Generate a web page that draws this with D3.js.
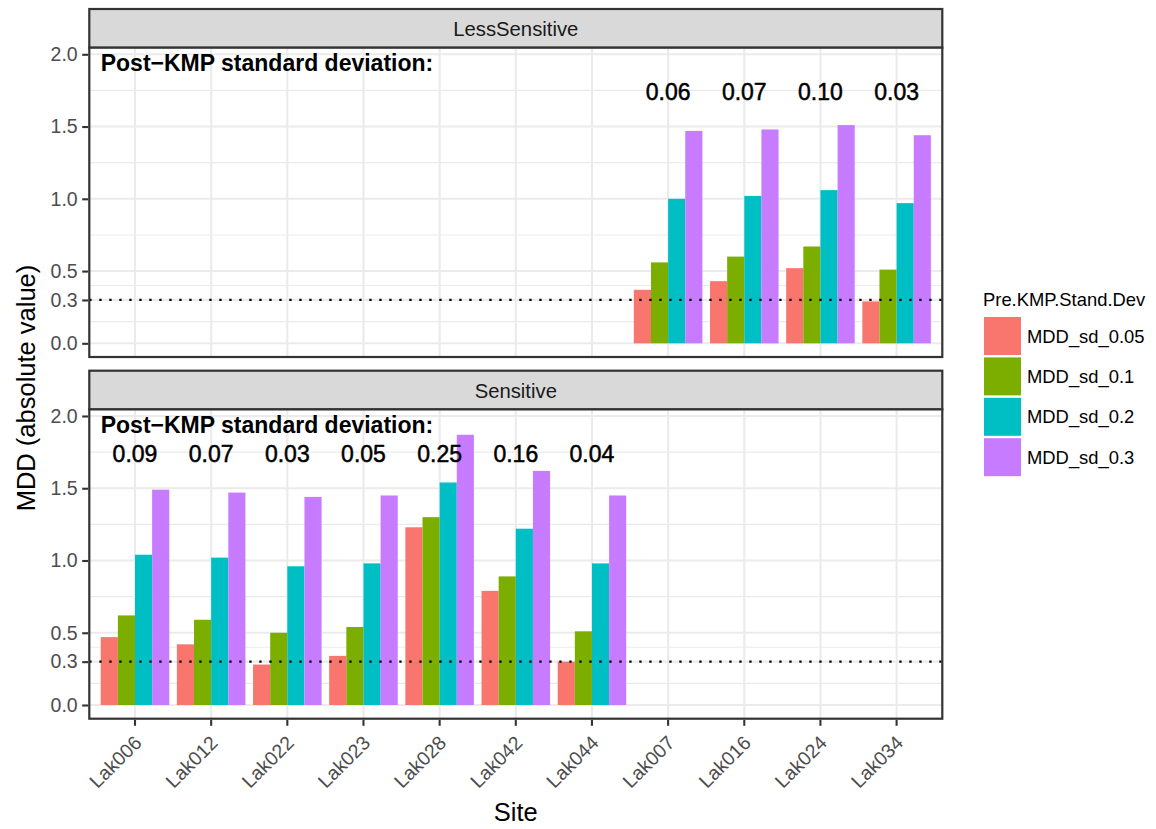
<!DOCTYPE html>
<html>
<head>
<meta charset="utf-8">
<script src="https://cdn.jsdelivr.net/npm/d3@7"></script>
<style>
  html, body { margin: 0; padding: 0; background: #ffffff; }
  svg { display: block; font-family: "Liberation Sans", Arial, Helvetica, sans-serif; }
</style>
</head>
<body>
<svg id="chart" width="1156" height="829"></svg>
<script>
// Sites, in axis order
const sites = ["Lak006", "Lak012", "Lak022", "Lak023", "Lak028", "Lak042", "Lak044",
               "Lak007", "Lak016", "Lak024", "Lak034"];
// Sensitivity class of each site (facet)
const sensitivity = ["Sensitive", "Sensitive", "Sensitive", "Sensitive", "Sensitive", "Sensitive", "Sensitive",
                     "LessSensitive", "LessSensitive", "LessSensitive", "LessSensitive"];
const facets = ["LessSensitive", "Sensitive"];

// Pre-KMP standard deviation groups (fill)
const groups = ["MDD_sd_0.05", "MDD_sd_0.1", "MDD_sd_0.2", "MDD_sd_0.3"];
const groupColors = ["#F8766D", "#7CAE00", "#00BFC4", "#C77CFF"];

// MDD (absolute value) per site, one array per group
const mddSd005 = [0.47, 0.42, 0.28, 0.34, 1.23, 0.79, 0.30, 0.37, 0.43, 0.52, 0.29];
const mddSd01  = [0.62, 0.59, 0.50, 0.54, 1.30, 0.89, 0.51, 0.56, 0.60, 0.67, 0.51];
const mddSd02  = [1.04, 1.02, 0.96, 0.98, 1.54, 1.22, 0.98, 1.00, 1.02, 1.06, 0.97];
const mddSd03  = [1.49, 1.47, 1.44, 1.45, 1.87, 1.62, 1.45, 1.47, 1.48, 1.51, 1.44];
const seriesValues = [mddSd005, mddSd01, mddSd02, mddSd03];

// Post-KMP standard deviation shown above each site
const postKmpSd = ["0.09", "0.07", "0.03", "0.05", "0.25", "0.16", "0.04", "0.06", "0.07", "0.10", "0.03"];

// Axis breaks
const yBreaks = [0, 0.3, 0.5, 1.0, 1.5, 2.0];
const yTickLabels = ["0.0", "0.3", "0.5", "1.0", "1.5", "2.0"];
const threshold = 0.3;
const labelY = 1.75;
const headerY = 1.95;
const headerText = "Post\u2212KMP standard deviation:";

// ---- layout ----
const svg = d3.select("#chart");
const plotLeft = 89.3, plotRight = 942.3;
const stripH = 38.7, panelH = 309.3;
const panelTops = { "LessSensitive": 47.7, "Sensitive": 409.4 };

const x = d3.scaleBand().domain(sites).range([plotLeft, plotRight]).paddingInner(0).paddingOuter(0.1);
const xPos = d3.scaleLinear().domain([0.4, sites.length + 0.6]).range([plotLeft, plotRight]);
const dodge = d3.scaleBand().domain(groups).range([0, x.bandwidth() * 0.9]);
const yDomain = [-0.0947, 2.0456];

// minor breaks sit midway between the major ones
const minorBreaks = d3.pairs(yBreaks).map(([a, b]) => (a + b) / 2);

const rows = sites.map((s, i) => ({ site: s, facet: sensitivity[i], sd: postKmpSd[i],
  vals: groups.map((g, k) => ({ group: g, k, value: seriesValues[k][i] })) }));

facets.forEach(facet => {
  const top = panelTops[facet];
  const bottom = top + panelH;
  const y = d3.scaleLinear().domain(yDomain).range([bottom, top]);
  const g = svg.append("g");

  // strip
  g.append("rect").attr("x", plotLeft).attr("y", top - stripH).attr("width", plotRight - plotLeft)
    .attr("height", stripH).attr("fill", "#D9D9D9").attr("stroke", "#333333").attr("stroke-width", 2.2);
  g.append("text").attr("x", (plotLeft + plotRight) / 2).attr("y", top - stripH / 2).attr("dy", "0.37em")
    .attr("text-anchor", "middle").attr("font-size", 20.3).attr("fill", "#1A1A1A").text(facet);

  // panel background
  g.append("rect").attr("x", plotLeft).attr("y", top).attr("width", plotRight - plotLeft)
    .attr("height", panelH).attr("fill", "#FFFFFF");

  // grid
  g.selectAll(".minor").data(minorBreaks).join("line")
    .attr("x1", plotLeft).attr("x2", plotRight).attr("y1", d => y(d)).attr("y2", d => y(d))
    .attr("stroke", "#EBEBEB").attr("stroke-width", 1.1);
  g.selectAll(".majorY").data(yBreaks).join("line")
    .attr("x1", plotLeft).attr("x2", plotRight).attr("y1", d => y(d)).attr("y2", d => y(d))
    .attr("stroke", "#EBEBEB").attr("stroke-width", 2.1);
  g.selectAll(".majorX").data(sites).join("line")
    .attr("x1", d => x(d) + x.bandwidth() / 2).attr("x2", d => x(d) + x.bandwidth() / 2)
    .attr("y1", top).attr("y2", bottom)
    .attr("stroke", "#EBEBEB").attr("stroke-width", 2.1);

  // bars
  const facetRows = rows.filter(r => r.facet === facet);
  const siteG = g.selectAll(".site").data(facetRows).join("g")
    .attr("transform", d => `translate(${x(d.site) + x.bandwidth() * 0.05},0)`);
  siteG.selectAll("rect").data(d => d.vals).join("rect")
    .attr("x", d => dodge(d.group)).attr("width", dodge.bandwidth())
    .attr("y", d => y(Math.max(0, d.value))).attr("height", d => Math.abs(y(d.value) - y(0)))
    .attr("fill", d => groupColors[d.k]);

  // threshold line
  g.append("line").attr("x1", plotLeft).attr("x2", plotRight)
    .attr("y1", y(threshold)).attr("y2", y(threshold))
    .attr("stroke", "#000000").attr("stroke-width", 2.3).attr("stroke-dasharray", "2.3 7.7");

  // header and post-KMP sd labels
  g.append("text").attr("x", xPos(0.55)).attr("y", y(headerY)).attr("dy", "0.41em")
    .attr("font-size", 23).attr("font-weight", "bold").attr("fill", "#000").text(headerText);
  g.selectAll(".sdlab").data(facetRows).join("text")
    .attr("x", d => x(d.site) + x.bandwidth() / 2).attr("y", y(labelY)).attr("dy", "0.42em")
    .attr("text-anchor", "middle").attr("font-size", 23).attr("fill", "#000")
    .attr("stroke", "#000").attr("stroke-width", 0.5).text(d => d.sd);

  // panel border
  g.append("rect").attr("x", plotLeft).attr("y", top).attr("width", plotRight - plotLeft)
    .attr("height", panelH).attr("fill", "none").attr("stroke", "#333333").attr("stroke-width", 2.2);

  // y axis
  const yAxis = d3.axisLeft(y).tickValues(yBreaks).tickFormat((d, i) => yTickLabels[i])
    .tickSize(6).tickPadding(4.5);
  const ya = g.append("g").attr("transform", `translate(${plotLeft - 1.1},0)`).call(yAxis);
  ya.select(".domain").remove();
  ya.selectAll("line").attr("stroke", "#333333").attr("stroke-width", 2.1);
  ya.selectAll("text").attr("font-size", 19.5).attr("fill", "#4D4D4D")
    .attr("font-family", "Liberation Sans, Arial, sans-serif");

  if (facet === "Sensitive") {
    const xAxis = d3.axisBottom(x).tickSize(6).tickFormat(() => "");
    const xa = g.append("g").attr("transform", `translate(0,${bottom + 1.1})`).call(xAxis);
    xa.select(".domain").remove();
    xa.selectAll("line").attr("stroke", "#333333").attr("stroke-width", 2.1);
    g.selectAll(".xlab").data(sites).join("text")
      .attr("transform", d => `translate(${x(d) + x.bandwidth() / 2 - 2.5},${bottom + 15}) rotate(-45)`)
      .attr("text-anchor", "end").attr("dy", "0.75em")
      .attr("font-size", 19.5).attr("fill", "#4D4D4D").text(d => d);
  }
});

// axis titles
svg.append("text").attr("x", (plotLeft + plotRight) / 2).attr("y", 821)
  .attr("text-anchor", "middle").attr("font-size", 25.5).attr("fill", "#000").text("Site");
svg.append("text").attr("transform", `translate(35,388) rotate(-90)`)
  .attr("text-anchor", "middle").attr("font-size", 25.5).attr("fill", "#000").text("MDD (absolute value)");

// legend
const legend = svg.append("g").attr("transform", "translate(983,0)");
legend.append("text").attr("x", 0).attr("y", 306).attr("font-size", 18.4).attr("fill", "#000")
  .text("Pre.KMP.Stand.Dev");
const keyStep = 40.4, keyTop = 316;
const keys = legend.selectAll(".key").data(groups).join("g")
  .attr("transform", (d, i) => `translate(0,${keyTop + i * keyStep})`);
keys.append("rect").attr("x", 1).attr("y", 1).attr("width", 37).attr("height", keyStep - 2.4)
  .attr("fill", (d, i) => groupColors[i]);
keys.append("text").attr("x", 44).attr("y", keyStep / 2).attr("dy", "0.35em")
  .attr("font-size", 18.4).attr("fill", "#000").text(d => d);
</script>
</body>
</html>
